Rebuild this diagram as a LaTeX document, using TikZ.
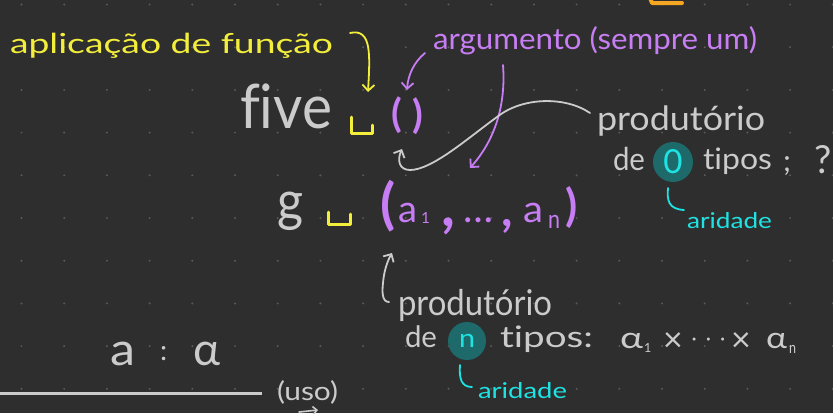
\documentclass[tikz,border=0pt]{standalone}
\usepackage{fontspec}
\setmainfont{Lato}[Ligatures=NoCommon]
\usepackage{graphicx}
\usetikzlibrary{arrows.meta}
\definecolor{cbg}{HTML}{2E2E2E}
\definecolor{cdot}{HTML}{5A5A5A}
\definecolor{cgray}{HTML}{CBCBCB}
\definecolor{cyel}{HTML}{F3EE3C}
\definecolor{cpur}{HTML}{C77DF3}
\definecolor{ccyan}{HTML}{1FE3E3}
\definecolor{cteal}{HTML}{1E6A6A}
\definecolor{corg}{HTML}{F5A623}
\newcommand\fitx[3]{\resizebox{#1}{#2}{\raisebox{0pt}[1ex][0pt]{#3}}}
\newcommand\fith[2]{\resizebox{!}{#1}{\raisebox{\depth}{#2}}}
\tikzset{
  txt/.style={inner sep=0pt, outer sep=0pt, anchor=base west},
  tg/.style={txt, text=cgray},
  ty/.style={txt, text=cyel},
  tp/.style={txt, text=cpur},
  tc/.style={txt, text=ccyan},
  arr/.style={line width=1.8pt, line cap=round, line join=round, -{Straight Barb[length=6pt,width=12pt]}},
  spc/.style={draw=cyel, line width=3pt, line cap=round, line join=round},
  hook/.style={draw=ccyan, line width=1.8pt, line cap=round},
  badge/.style={circle, fill=cteal, inner sep=0pt, text=ccyan},
}
\begin{document}
\begin{tikzpicture}[x=1pt,y=-1pt]
\fill[cbg] (0,0) rectangle (833,413);
\useasboundingbox (0,0) rectangle (833,413);
\foreach \i in {0,...,19} \foreach \j in {0,...,9}
  \fill[cdot] (21.5+42.7*\i, 4.5+42.7*\j) circle (1.1pt);
% orange stroke at top edge
\draw[corg, line width=4pt, line cap=round, line join=round] (650,-2) -- (652,3) -- (682,3);
% top line
\node[ty] (apl) at (10,53) {\fitx{323pt}{14pt}{aplicação de função}};
\node[tg] (five) at (240,128) {\fitx{92pt}{31pt}{five}};
\draw[spc] (351,117) -- (351,133) -- (372,133) -- (372,125);
\node[tp, anchor=south] (lp1) at (397,134) {\fith{37pt}{\bfseries(}};
\node[tp, anchor=south] (rp1) at (418,135) {\fith{37pt}{\bfseries)}};
\node[tp] (arg) at (433,49) {\fitx{324pt}{15pt}{argumento (sempre um)}};
% yellow arrow
\coordinate (ya) at (350,33);
\coordinate (yb) at (368,92);
\draw[arr, cyel] (ya) .. controls (372,28) and (370,55) .. (yb);
% purple arrows
\coordinate (pa) at (425,53);
\coordinate (pb) at (407,90);
\draw[arr, cpur] (pa) .. controls (414,62) and (408,75) .. (pb);
\coordinate (pc) at (503,65);
\coordinate (pd) at (470,168);
\draw[arr, cpur] (pc) .. controls (506,105) and (495,140) .. (pd);
% grey arrow from produtorio to ()
\coordinate (ga) at (590,113);
\coordinate (gb) at (402,149);
\draw[arr, cgray] (ga) .. controls (565,96) and (522,97) .. (497,117) .. controls (468,138) and (432,170) .. (410,170) .. controls (399,170) and (397,160) .. (gb);
% right block
\node[tg] (prod1) at (597,130) {\fitx{168pt}{17pt}{produtório}};
\node[tg] (de1) at (613,170) {\fitx{32pt}{16pt}{de}};
\node[badge, minimum size=40pt] (c0) at (673,162) {\resizebox{!}{24pt}{0}};
\node[tg] (tip1) at (703,169) {\fitx{69pt}{15pt}{tipos}};
\node[tg] (semi) at (783,176) {\fith{19pt}{;}};
\node[tg] (qm) at (814,173) {\resizebox{!}{28pt}{?}};
\coordinate (h1a) at (668,188);
\coordinate (h1b) at (684,210);
\draw[hook] (h1a) .. controls (667,200) and (668,209) .. (h1b);
\node[tc] (ari1) at (687,228) {\fitx{85pt}{11pt}{aridade}};
% g line
\node[tg] (g) at (277,220) {\fitx{26pt}{28pt}{g}};
\draw[spc] (328,212) -- (328,224) -- (350,224) -- (350,214);
\node[tp, anchor=south] (lp2) at (388,232) {\fith{52pt}{\bfseries(}};
\node[tp] (a1) at (398,222) {\fitx{19pt}{19pt}{a}};
\node[tp] (s1) at (421,223) {\resizebox{!}{11pt}{1}};
\node[tp] (cm1) at (441,235) {\fith{17pt}{\bfseries,}};
\node[tp, anchor=base] (ell) at (478,222) {\resizebox{30pt}{!}{…}};
\node[tp] (cm2) at (501,233) {\fith{14pt}{\bfseries,}};
\node[tp] (an) at (523,222) {\fitx{20pt}{19pt}{a}};
\node[tp] (sn) at (548,228) {\fitx{12pt}{13pt}{n}};
\node[tp, anchor=south] (rp2) at (572,229) {\fith{42pt}{\bfseries)}};
% bottom block
\coordinate (ua) at (389,302);
\coordinate (ub) at (392,253);
\draw[arr, cgray] (ua) .. controls (382,302) and (382,292) .. (383,283) .. controls (384,270) and (388,260) .. (ub);
\node[tg] (prod2) at (398,315) {\fitx{154pt}{18pt}{produtório}};
\node[tg] (de2) at (405,347) {\fitx{32pt}{15pt}{de}};
\node[badge, minimum size=38pt] (cn) at (467,341) {\fitx{16pt}{13pt}{n}};
\node[tg] (tip2) at (500,347) {\fitx{93pt}{15pt}{tipos:}};
\node[tg] (al1) at (620,348) {\fitx{23pt}{15pt}{α}};
\node[tg] (al1s) at (644,352) {\resizebox{!}{9pt}{1}};
\node[tg, anchor=center] (x1) at (673,342) {\fontsize{34pt}{34pt}\selectfont ×};
\node[tg, anchor=base] (cdots) at (708.5,345) {\fontsize{20pt}{20pt}\selectfont ·\hspace{9pt}·\hspace{9pt}·};
\node[tg, anchor=center] (x2) at (741,342) {\fontsize{34pt}{34pt}\selectfont ×};
\node[tg] (al2) at (766,348) {\fitx{21pt}{15pt}{α}};
\node[tg] (al2s) at (789,353) {\fitx{7pt}{8pt}{n}};
\coordinate (h2a) at (460,365);
\coordinate (h2b) at (472,387);
\draw[hook] (h2a) .. controls (459,378) and (461,387) .. (h2b);
\node[tc] (ari2) at (478,398) {\fitx{89pt}{11pt}{aridade}};
% a : alpha
\node[tg] (va) at (110,365) {\fitx{25pt}{23pt}{a}};
\node[tg] (colon) at (160,360) {\resizebox{!}{14pt}{:}};
\node[tg] (ty) at (193,365) {\fitx{27pt}{23pt}{α}};
\coordinate (la) at (0,393);
\coordinate (lb) at (262,393);
\draw[cgray, line width=3pt] (la) -- (lb);
\node[tg] (uso) at (277,400) {\fitx{61pt}{13pt}{(uso)}};
\coordinate (sa) at (299,412);
\coordinate (sb) at (318,410);
\draw[cgray, line width=1.6pt, line cap=round, -{Straight Barb[length=4pt,width=8pt]}] (sa) -- (sb);
\end{tikzpicture}
\end{document}
